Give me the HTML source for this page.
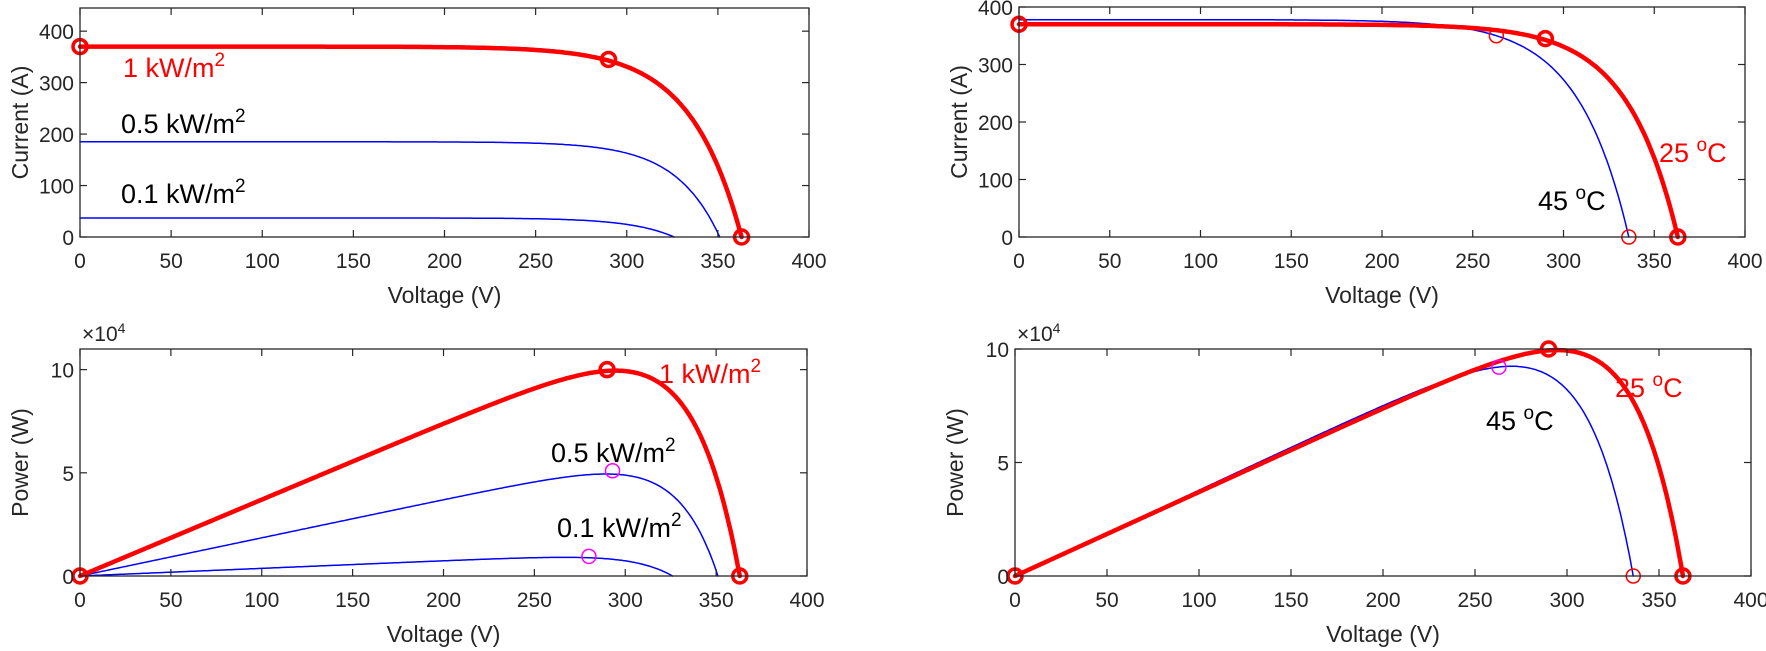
<!DOCTYPE html>
<html><head><meta charset="utf-8"><style>
body{margin:0;background:#fff;}
svg{display:block;font-family:"Liberation Sans",Arial,sans-serif;}
.t{font-size:21px;fill:#262626;}
.l{font-size:23px;fill:#262626;}
.a{font-size:27px;}
</style></head><body>
<svg id="s" width="1766" height="651" viewBox="0 0 1766 651" xmlns="http://www.w3.org/2000/svg">
<text x="123" y="77" class="a" fill="#ff0000">1 kW/m<tspan dy="-11" font-size="19">2</tspan></text>
<text x="121" y="133" class="a" fill="#000">0.5 kW/m<tspan dy="-11" font-size="19">2</tspan></text>
<text x="121" y="203" class="a" fill="#000">0.1 kW/m<tspan dy="-11" font-size="19">2</tspan></text>
<text x="1659" y="162" class="a" fill="#ff0000">25 <tspan dy="-11" font-size="19">o</tspan><tspan dy="11">C</tspan></text>
<text x="1538" y="210" class="a" fill="#000">45 <tspan dy="-11" font-size="19">o</tspan><tspan dy="11">C</tspan></text>
<text x="659" y="383" class="a" fill="#ff0000">1 kW/m<tspan dy="-11" font-size="19">2</tspan></text>
<text x="551" y="462" class="a" fill="#000">0.5 kW/m<tspan dy="-11" font-size="19">2</tspan></text>
<text x="557" y="537" class="a" fill="#000">0.1 kW/m<tspan dy="-11" font-size="19">2</tspan></text>
<text x="1615" y="397" class="a" fill="#ff0000">25 <tspan dy="-11" font-size="19">o</tspan><tspan dy="11">C</tspan></text>
<text x="1486" y="430" class="a" fill="#000">45 <tspan dy="-11" font-size="19">o</tspan><tspan dy="11">C</tspan></text>
</svg>
<script>
var s=document.getElementById('s'),NS='http://www.w3.org/2000/svg';
function el(t,a,txt){var e=document.createElementNS(NS,t);for(var k in a)e.setAttribute(k,a[k]);if(txt!==undefined)e.textContent=txt;s.appendChild(e);return e;}
function curve(Isc,Voc,a){var I0=Isc/(Math.exp(Voc/a)-1),pts=[];for(var v=0;v<=Voc;v+=1){pts.push([v,Math.max(0,Isc-I0*(Math.exp(v/a)-1))]);}pts.push([Voc,0]);return pts;}
var A=28;
var c1=curve(370,363,A),c5=curve(185,351,24),c01=curve(37,326,24),c45=curve(378,336,A);
function panel(x0,x1,yt,yb,ymax,yticks,ylab,exp,series,marks){
 var sx=function(v){return x0+(x1-x0)*v/400},sy=function(v){return yb-(yb-yt)*v/ymax};
 el('rect',{x:x0,y:yt,width:x1-x0,height:yb-yt,fill:'#fff',stroke:'none'});
 series.forEach(function(se){var d='';se.pts.forEach(function(p,i){var y=se.p?p[0]*p[1]/1e4:p[1];d+=(i?'L':'M')+sx(p[0]).toFixed(1)+' '+sy(y).toFixed(1);});
  el('path',{d:d,fill:'none',stroke:se.c,'stroke-width':se.w,'stroke-linejoin':'round','stroke-linecap':'round'});});
 marks.forEach(function(m){el('circle',{cx:sx(m[0]),cy:sy(m[1]),r:m[3]||7,fill:'none',stroke:m[2],'stroke-width':m[4]||1.5});});
 for(var v=0;v<=400;v+=50){var x=sx(v);el('line',{x1:x,y1:yb,x2:x,y2:yb-7,stroke:'#262626','stroke-width':1.2});el('line',{x1:x,y1:yt,x2:x,y2:yt+7,stroke:'#262626','stroke-width':1.2});
  el('text',{x:x,y:yb+31,'text-anchor':'middle','class':'t'},String(v));}
 yticks.forEach(function(t){var y=sy(t[0]);el('line',{x1:x0,y1:y,x2:x0+7,y2:y,stroke:'#262626','stroke-width':1.2});el('line',{x1:x1,y1:y,x2:x1-7,y2:y,stroke:'#262626','stroke-width':1.2});
  el('text',{x:x0-6,y:y+8,'text-anchor':'end','class':'t'},t[1]);});
 el('rect',{x:x0,y:yt,width:x1-x0,height:yb-yt,fill:'none',stroke:'#262626','stroke-width':1.3});
 el('text',{x:(x0+x1)/2,y:yb+66,'text-anchor':'middle','class':'l'},'Voltage (V)');
 var cy=(yt+yb)/2;el('text',{x:x0-52,y:cy,'text-anchor':'middle','class':'l',transform:'rotate(-90 '+(x0-52)+' '+cy+')'},ylab);
 if(exp){var t=el('text',{x:x0+2,y:yt-8,'class':'t','font-size':'19'},'×10');var sp=document.createElementNS(NS,'tspan');sp.setAttribute('dy','-8');sp.setAttribute('font-size','14');sp.textContent='4';t.appendChild(sp);}
}
var yI=[[0,'0'],[100,'100'],[200,'200'],[300,'300'],[400,'400']];
panel(80,809,8,237,445,yI,'Current (A)',false,
 [{pts:c5,c:'#0000ff',w:1.5},{pts:c01,c:'#0000ff',w:1.5},{pts:c1,c:'#ff0000',w:4.5}],
 [[0,370,'#ff0000',7,3.5],[290,345,'#ff0000',7,3.5],[363,0,'#ff0000',7,3.5]]);
panel(1019,1745,7,237,400,yI,'Current (A)',false,
 [{pts:c45,c:'#0000ff',w:1.5},{pts:c1,c:'#ff0000',w:4.5}],
 [[263,350,'#ff0000',7,1.5],[336,0,'#ff0000',7,1.5],[0,370,'#ff0000',7,3.5],[290,345,'#ff0000',7,3.5],[363,0,'#ff0000',7,3.5]]);
panel(80,807,349,576,11,[[0,'0'],[5,'5'],[10,'10']],'Power (W)',true,
 [{pts:c5,c:'#0000ff',w:1.5,p:1},{pts:c01,c:'#0000ff',w:1.5,p:1},{pts:c1,c:'#ff0000',w:4.5,p:1}],
 [[293,5.1,'#ff00ff',7,1.5],[280,0.95,'#ff00ff',7,1.5],[0,0,'#ff0000',7,3.5],[290,10,'#ff0000',7,3.5],[363,0,'#ff0000',7,3.5]]);
panel(1015,1751,349,576,10,[[0,'0'],[5,'5'],[10,'10']],'Power (W)',true,
 [{pts:c45,c:'#0000ff',w:1.5,p:1},{pts:c1,c:'#ff0000',w:4.5,p:1}],
 [[263,9.2,'#ff00ff',7,1.5],[336,0,'#ff0000',7,1.5],[0,0,'#ff0000',7,3.5],[290,10,'#ff0000',7,3.5],[363,0,'#ff0000',7,3.5]]);
var ts=[].slice.call(s.querySelectorAll('text.a'));ts.forEach(function(t){s.appendChild(t);});
</script>
</body></html>
